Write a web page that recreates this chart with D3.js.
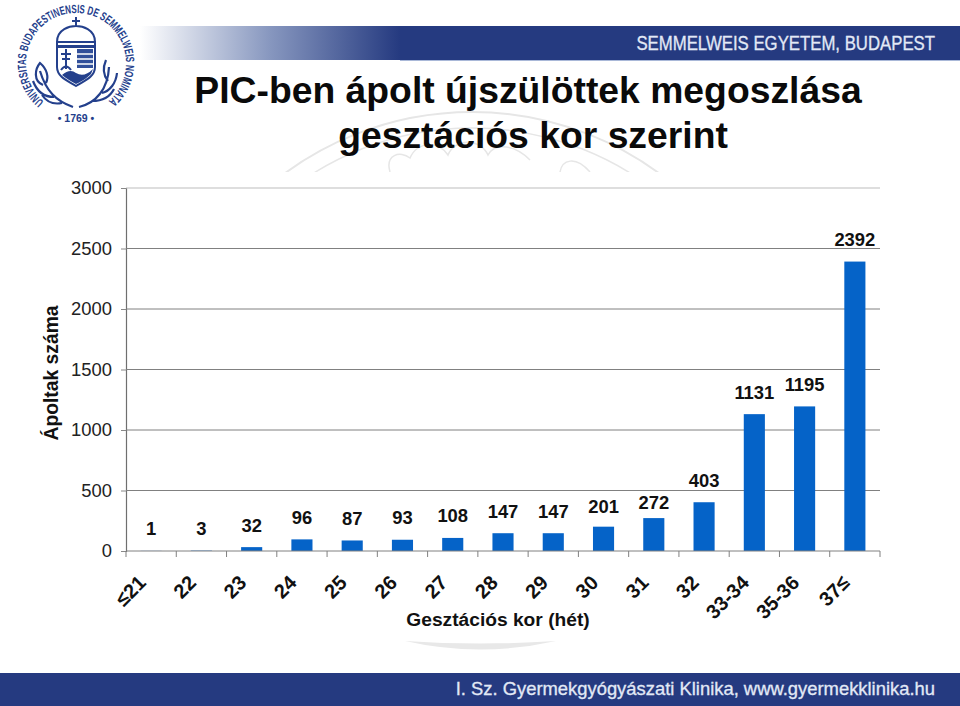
<!DOCTYPE html>
<html>
<head>
<meta charset="utf-8">
<script src="https://cdn.jsdelivr.net/npm/d3@7"></script>
<style>
  html, body { margin: 0; padding: 0; background: #fff; }
  svg { display: block; }
  text { font-family: "Liberation Sans", Arial, sans-serif; }
</style>
</head>
<body>
<div id="chart"></div>
<script>
const categories = ["≤21", "22", "23", "24", "25", "26", "27", "28", "29", "30", "31", "32", "33-34", "35-36", "37≤"];
const patients = [1, 3, 32, 96, 87, 93, 108, 147, 147, 201, 272, 403, 1131, 1195, 2392];
const yTicks = [0, 500, 1000, 1500, 2000, 2500, 3000];
const titleLines = ["PIC-ben ápolt újszülöttek megoszlása", "gesztációs kor szerint"];

const width = 960, height = 706, margin = {top: 188, right: 80, bottom: 155, left: 126};
const navy = "#253a80", barBlue = "#0563c8", seal = "#24408c";

const svg = d3.select("#chart")
  .append("svg")
  .attr("width", width)
  .attr("height", height);

const defs = svg.append("defs");

const fade = defs.append("linearGradient").attr("id", "fade");
fade.append("stop").attr("offset", "0").attr("stop-color", "#fff");
fade.append("stop").attr("offset", "0.5").attr("stop-color", "#8797bf");
fade.append("stop").attr("offset", "1").attr("stop-color", navy);

// faint watermark behind the title
defs.append("clipPath").attr("id", "markClip")
  .append("rect").attr("x", 0).attr("y", 60).attr("width", width).attr("height", 112);

const mark = svg.append("g")
  .attr("clip-path", "url(#markClip)")
  .attr("fill", "none")
  .attr("stroke", "#e6e6e6");

mark.append("circle").attr("cx", 472).attr("cy", 428).attr("r", 316).attr("stroke-width", 2);
mark.append("circle").attr("cx", 472).attr("cy", 428).attr("r", 300).attr("stroke-width", 1.5);
mark.append("path")
  .attr("stroke-width", 1.5)
  .attr("d", "M390,172 C385,155 400,150 410,158 C418,140 440,142 448,155 C455,138 480,138 488,155 C495,142 515,145 530,160 M560,172 C562,160 575,155 590,172");

// header band
svg.append("rect").attr("x", 140).attr("y", 26).attr("width", 260).attr("height", 34).attr("fill", "url(#fade)");
svg.append("rect").attr("x", 400).attr("y", 26).attr("width", 560).attr("height", 34).attr("fill", navy);
svg.append("rect").attr("x", 400).attr("y", 60).attr("width", 560).attr("height", 1).attr("fill", "#a9b8d8");
svg.append("text")
  .attr("transform", "translate(935,50) scale(0.86,1)")
  .attr("text-anchor", "end")
  .attr("font-size", 19.5)
  .attr("fill", "#e2e9f6")
  .attr("stroke", "#e2e9f6")
  .attr("stroke-width", 0.3)
  .text("SEMMELWEIS EGYETEM, BUDAPEST");

// footer band
svg.append("rect").attr("x", 0).attr("y", 673).attr("width", width).attr("height", 33).attr("fill", navy);
svg.append("text")
  .attr("x", 935).attr("y", 695)
  .attr("text-anchor", "end")
  .attr("font-size", 18.4)
  .attr("fill", "#e2e9f6")
  .attr("stroke", "#e2e9f6")
  .attr("stroke-width", 0.3)
  .text("I. Sz. Gyermekgyógyászati Klinika, www.gyermekklinika.hu");

// crescent under the chart
svg.append("path")
  .attr("d", "M405,641 Q480,646 556,641 Q480,658 405,641 Z")
  .attr("fill", "#e8e8e8");

// university seal
const logo = svg.append("g").attr("transform", "translate(76,63)");
const sealArc = d3.path();
sealArc.arc(0, 0, 50, Math.PI * 0.72, Math.PI * 2.28, false);
defs.append("path").attr("id", "sealText").attr("d", sealArc.toString());

logo.append("text")
  .attr("font-family", "Liberation Serif, serif")
  .attr("font-size", 12)
  .attr("font-weight", 700)
  .attr("fill", seal)
  .append("textPath")
  .attr("href", "#sealText")
  .attr("textLength", 244)
  .attr("lengthAdjust", "spacingAndGlyphs")
  .text("UNIVERSITAS BUDAPESTINENSIS DE SEMMELWEIS NOMINATA");

logo.append("text")
  .attr("y", 59)
  .attr("text-anchor", "middle")
  .attr("font-family", "Liberation Serif, serif")
  .attr("font-size", 10.5)
  .attr("font-weight", 700)
  .attr("fill", seal)
  .text("• 1769 •");

logo.append("path") // crown
  .attr("d", "M-19,-21 C-19,-34 -6,-37 0,-37 C6,-37 19,-34 19,-21 Z M0,-37 L0,-46 M-4,-42 L4,-42")
  .attr("fill", "none").attr("stroke", seal).attr("stroke-width", 2);
logo.append("path") // shield
  .attr("d", "M-19,-21 L19,-21 L19,4 C19,14 8,18 0,23 C-8,18 -19,14 -19,4 Z")
  .attr("fill", "#fff").attr("stroke", seal).attr("stroke-width", 2);
logo.append("rect").attr("x", -18).attr("y", -18).attr("width", 36).attr("height", 3).attr("fill", seal);
logo.append("path") // cross
  .attr("d", "M-10,-14 L-10,6 M-15,-9 L-5,-9 M-14,-4 L-6,-4 M-15,7 Q-10,0 -5,7")
  .attr("fill", "none").attr("stroke", seal).attr("stroke-width", 2);
logo.append("rect").attr("x", 1).attr("y", -14).attr("width", 16).attr("height", 19).attr("fill", "#32509a");
logo.append("path") // stripes on the right half
  .attr("d", "M1,-9 L17,-9 M1,-4 L17,-4 M1,1 L17,1")
  .attr("stroke", "#fff").attr("stroke-width", 1.3);
logo.append("path") // lower field
  .attr("d", "M-14,12 Q-6,5 0,10 Q8,15 17,6 L15,11 C9,17 4,19 0,21 C-5,18 -9,16 -14,12 Z")
  .attr("fill", seal);
logo.append("path") // oak and laurel
  .attr("d", "M-3,44 C-20,38 -30,28 -36,8 M-33,22 C-43,18 -41,6 -36,0 C-29,6 -27,14 -30,20 M-22,34 C-34,34 -40,26 -43,18 M-14,40 C-24,42 -30,38 -34,32 M3,44 C20,40 32,26 33,4 M26,30 C34,28 40,20 41,10 M32,18 C27,12 27,4 30,-3 M16,38 C26,38 34,34 38,26")
  .attr("fill", "none").attr("stroke", seal).attr("stroke-width", 2.2);

// title, second line sits a little right of the first in the original
svg.append("g")
  .selectAll("text")
  .data(titleLines)
  .join("text")
  .attr("x", (d, i) => 528 + i * 5)
  .attr("y", (d, i) => 103 + i * 44.5)
  .attr("text-anchor", "middle")
  .attr("font-size", 37.3)
  .attr("font-weight", 700)
  .attr("fill", "#0a0a0a")
  .text(d => d);

const x = d3.scaleBand()
  .domain(categories)
  .range([margin.left, width - margin.right])
  .paddingInner(0.58)
  .paddingOuter(0.29);

const y = d3.scaleLinear()
  .domain([0, 3000])
  .range([height - margin.bottom, margin.top]);

// gridlines + value axis
const yAxis = svg.append("g")
  .attr("transform", `translate(${margin.left},0)`)
  .call(d3.axisLeft(y).tickValues(yTicks).tickFormat(d3.format("d")).tickSize(5).tickPadding(9));
yAxis.select(".domain").attr("stroke", "#6f6f6f").attr("stroke-width", 1.2);
yAxis.selectAll(".tick line").attr("stroke", "#888");
yAxis.selectAll(".tick text")
  .attr("font-family", "Liberation Sans, Arial, sans-serif")
  .attr("font-size", 18.4)
  .attr("fill", "#222");

svg.append("g")
  .selectAll("line")
  .data(yTicks.filter(d => d > 0))
  .join("line")
  .attr("x1", margin.left)
  .attr("x2", width - margin.right)
  .attr("y1", d => y(d))
  .attr("y2", d => y(d))
  .attr("stroke", d => d === 3000 ? "#bdbdbd" : "#808080");

svg.append("g")
  .selectAll("rect")
  .data(patients)
  .join("rect")
  .attr("x", (d, i) => x(categories[i]))
  .attr("y", d => y(d))
  .attr("width", x.bandwidth())
  .attr("height", d => y(0) - y(d))
  .attr("fill", barBlue);

// category axis, ticks sit between the bars
const step = x.step();
const xAxis = svg.append("g")
  .attr("transform", `translate(0,${y(0)})`);
xAxis.append("line")
  .attr("x1", margin.left).attr("x2", width - margin.right)
  .attr("stroke", "#808080");
xAxis.selectAll(".sep")
  .data(categories.concat(""))
  .join("line")
  .attr("class", "sep")
  .attr("x1", (d, i) => margin.left + i * step)
  .attr("x2", (d, i) => margin.left + i * step)
  .attr("y2", 6)
  .attr("stroke", "#808080");

xAxis.selectAll(".cat")
  .data(categories)
  .join("text")
  .attr("class", "cat")
  .attr("text-anchor", "end")
  .attr("font-size", 20)
  .attr("font-weight", 700)
  .attr("fill", "#111")
  .attr("transform", d => `translate(${x(d) + x.bandwidth() / 2 - 4},33) rotate(-45)`)
  .text(d => d);

// value labels, 201 and 272 were moved by hand in the original
const labelGap = {201: 20, 272: 16};
svg.append("g")
  .selectAll("text")
  .data(patients)
  .join("text")
  .attr("x", (d, i) => x(categories[i]) + x.bandwidth() / 2)
  .attr("y", d => y(d) - (labelGap[d] || 22) + 6.5)
  .attr("text-anchor", "middle")
  .attr("font-size", 18.4)
  .attr("font-weight", 700)
  .attr("fill", "#111")
  .text(d => d);

// axis titles
svg.append("text")
  .attr("x", 498).attr("y", 626)
  .attr("text-anchor", "middle")
  .attr("font-size", 19.2)
  .attr("font-weight", 700)
  .attr("fill", "#111")
  .text("Gesztációs kor (hét)");

svg.append("text")
  .attr("transform", "translate(58,373) rotate(-90)")
  .attr("text-anchor", "middle")
  .attr("font-size", 19.3)
  .attr("font-weight", 700)
  .attr("fill", "#111")
  .text("Ápoltak száma");
</script>
</body>
</html>
